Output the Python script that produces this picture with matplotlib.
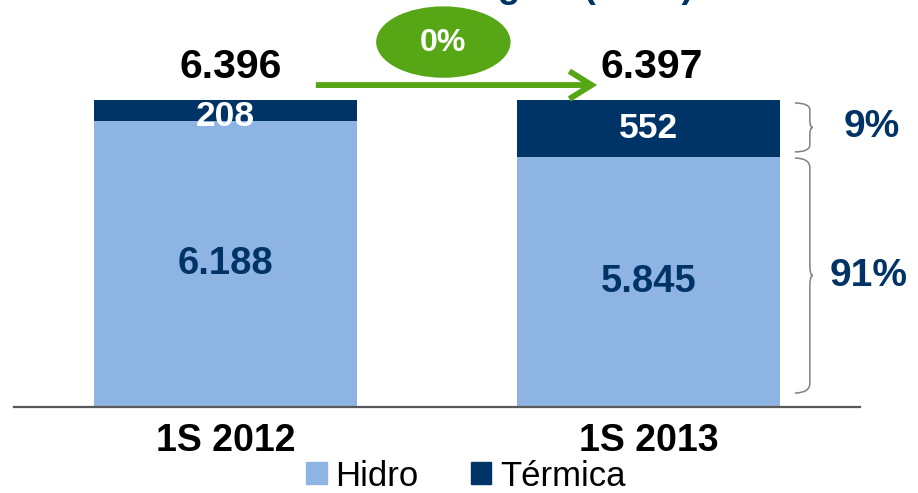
import matplotlib.pyplot as plt
import matplotlib.patches as mpatches
from matplotlib.path import Path
import numpy as np

plt.rcParams['font.family'] = ['Liberation Sans', 'DejaVu Sans']

# data
periods = ['1S 2012', '1S 2013']
hidro = [6188, 5845]
termica = [208, 552]
totals = [6396, 6397]
hidro_labels = ['6.188', '5.845']
termica_labels = ['208', '552']
total_labels = ['6.396', '6.397']
share_labels = ['9%', '91%']
growth_label = '0%'

light = '#8EB4E3'
navy = '#003366'
green = '#56A615'

W, H = 918, 493
fig = plt.figure(figsize=(W / 100, H / 100), dpi=100)

# axes box in pixels: x 14..860, baseline at y=407
ax = fig.add_axes([14 / W, 86 / H, 846 / W, 407 / H])
ymin = 3400
px_per_unit = 0.10245
ax.set_xlim(-0.5, 1.5)
ax.set_ylim(ymin, ymin + 407 / px_per_unit)

x = np.arange(len(periods))
ax.bar(x, hidro, width=0.624, color=light, zorder=2)
ax.bar(x, termica, bottom=hidro, width=0.624, color=navy, zorder=2)

for s in ['top', 'right', 'left']:
    ax.spines[s].set_visible(False)
ax.spines['bottom'].set_color('#595959')
ax.spines['bottom'].set_linewidth(1.6)
ax.set_yticks([])
ax.set_xticks(x)
ax.set_xticklabels(periods, fontsize=27, fontweight='bold')
ax.tick_params(axis='x', length=0, pad=11.5)

ux = 1 / 423.0          # data x per pixel
uy = 1 / px_per_unit    # data y per pixel

for i in range(len(periods)):
    # hydro value in the middle of the visible part
    ax.text(x[i], (ymin + hidro[i]) / 2, hidro_labels[i], ha='center', va='center',
            fontsize=27.5, fontweight='bold', color=navy, zorder=3)
    # thermal value
    off = -6 * uy if termica[i] < 300 else 0
    ax.text(x[i], hidro[i] + termica[i] / 2 + off, termica_labels[i], ha='center',
            va='center', fontsize=25.5, fontweight='bold', color='white', zorder=3)
    # totals
    ax.text(x[i] + 5 * ux * (1 if i == 0 else 0.6), totals[i] + 22 * uy, total_labels[i],
            ha='center', va='baseline', fontsize=29.5, fontweight='bold', color='black')

# growth arrow and bubble
arr_y = totals[0] + 15 * uy
arrow = mpatches.FancyArrowPatch((0.207, arr_y), (0.885, arr_y),
                                 arrowstyle='->,head_length=16,head_width=10',
                                 mutation_scale=1, color=green, lw=4.2,
                                 capstyle='butt', joinstyle='miter', clip_on=False, zorder=4)
ax.add_patch(arrow)
ell = mpatches.Ellipse((0.515, totals[0] + 58 * uy), 133 * ux, 70 * uy,
                       color=green, clip_on=False, zorder=4)
ax.add_patch(ell)
ax.text(0.515, totals[0] + 57 * uy, growth_label, ha='center', va='center',
        fontsize=23, fontweight='bold', color='white', zorder=5)


def brace(x0, y_top, y_bot, d=15, r=10, t=3):
    dx, dr, dt = d * ux, r * uy, t * ux
    ym = (y_top + y_bot) / 2
    verts = [(x0, y_top), (x0 + dx, y_top), (x0 + dx, y_top - dr),
             (x0 + dx, ym + dr),
             (x0 + dx, ym), (x0 + dx + dt, ym),
             (x0 + dx, ym), (x0 + dx, ym - dr),
             (x0 + dx, y_bot + dr),
             (x0 + dx, y_bot), (x0, y_bot)]
    codes = [Path.MOVETO, Path.CURVE3, Path.CURVE3, Path.LINETO,
             Path.CURVE3, Path.CURVE3, Path.CURVE3, Path.CURVE3,
             Path.LINETO, Path.CURVE3, Path.CURVE3]
    ax.add_patch(mpatches.PathPatch(Path(verts, codes), fill=False, ec='#808080',
                                    lw=1.1, clip_on=False))


bx = 1.346
brace(bx, totals[1] - 30, hidro[1] + 45, r=7)
brace(bx, hidro[1] - 15, ymin + 14 * uy)
ax.text(1.528, (totals[1] - 30 + hidro[1] + 45) / 2, share_labels[0], ha='center',
        va='center', fontsize=28, fontweight='bold', color=navy)
ax.text(1.52, (hidro[1] - 15 + ymin + 14 * uy) / 2, share_labels[1], ha='center',
        va='center', fontsize=28, fontweight='bold', color=navy)

# title, mostly cut off by the top edge (as in the original slide)
fig.text(694 / W, 1 + 3 / H, 'Mix de Origem (GWh)', ha='right', va='baseline',
         fontsize=26.5, fontweight='bold', color=navy)

handles = [mpatches.Patch(color=light, label='Hidro'),
           mpatches.Patch(color=navy, label='Térmica')]
fig.legend(handles=handles, loc='center', bbox_to_anchor=(466 / W, 17 / H), ncol=2,
           frameon=False, fontsize=25, handlelength=0.58, handleheight=0.58,
           handletextpad=0.26, columnspacing=1.5, borderpad=0, borderaxespad=0)

fig.savefig('out.png', dpi=100)
